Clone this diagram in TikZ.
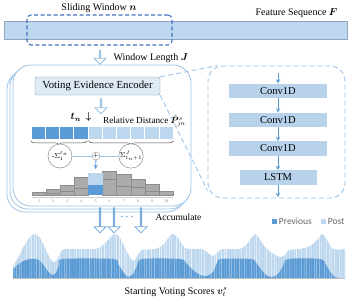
\documentclass[tikz,border=0pt]{standalone}
\usepackage{fontspec}
\setmainfont{Liberation Serif}
\newfontfamily\legendfont{Carlito}
\usepackage{amsmath,bm}
\usetikzlibrary{shapes.arrows,decorations.pathreplacing,calc}
\definecolor{featblue}{HTML}{BDD7EE}
\definecolor{featedge}{HTML}{8EA4C0}
\definecolor{winblue}{HTML}{4472C4}
\definecolor{cardline}{HTML}{9DC3E6}
\definecolor{encfill}{HTML}{DEEBF7}
\definecolor{encedge}{HTML}{8497B0}
\definecolor{darkblue}{HTML}{5B9BD5}
\definecolor{lightblue}{HTML}{BDD7EE}
\definecolor{convblue}{HTML}{B8D2EC}
\definecolor{bargray}{HTML}{ABABAB}
\definecolor{baredge}{HTML}{8C8C8C}
\begin{document}
\begin{tikzpicture}[x=1pt,y=-1pt,>=stealth,font=\fontsize{10}{12}\selectfont]
    \tikzset{hollow/.style={single arrow, draw=cardline, fill=white, line width=0.8pt, rotate=-90, minimum width=12pt, single arrow head extend=3.5pt, single arrow head indent=0pt, inner sep=0pt},
        card/.style={draw=cardline, fill=white, line width=0.8pt, rounded corners=18pt, minimum width=178pt, minimum height=141pt},
        cell/.style={draw=white, line width=0.6pt, minimum width=14.2pt, minimum height=13pt, inner sep=0pt},
        sumcirc/.style={circle, draw=baredge, fill=white, minimum size=24pt, inner sep=0pt, line width=0.5pt, font=\fontsize{7.5}{8}\selectfont},
        conv/.style={fill=convblue, minimum width=98pt, minimum height=14.5pt, inner sep=0pt, font=\fontsize{10.5}{12}\selectfont},
        flow/.style={->, darkblue, line width=0.9pt},
        key/.style={minimum size=5pt, inner sep=0pt},
        keytext/.style={anchor=west, inner sep=2pt, text=gray!80!black, font=\legendfont\fontsize{9.5}{10}\selectfont}}
    \useasboundingbox (0,0) rectangle (351,301);
    % feature sequence and sliding window
    \node[draw=featedge, fill=featblue, minimum width=343pt, minimum height=18pt, inner sep=0pt] (feat) at (175.5,30) {};
    \node[draw=winblue, dashed, dash pattern=on 4pt off 2.5pt, rounded corners=4pt, line width=1.1pt, minimum width=145pt, minimum height=30pt] (win) at (99.5,30) {};
    \node (winlbl) at (99,8) {Sliding Window $\bm{n}$};
    \node[anchor=east] (featlbl) at (341,13) {Feature Sequence $\bm{F}$};
    \node[hollow, minimum height=14pt] (winarrow) at (100,57) {};
    \node[anchor=west] (lenlbl) at (110,58) {Window Length $\bm{J}$};
    % stacked cards
    \node[card] (card3) at (96,141.5) {};
    \node[card] (card2) at (99,138.5) {};
    \node[card] (card1) at (102,135.5) {};
    \node[draw=encedge, fill=encfill, rounded corners=2pt, minimum width=125pt, minimum height=18pt, font=\fontsize{10.8}{12}\selectfont] (enc) at (97.5,86) {Voting Evidence Encoder};
    \node[hollow, minimum height=15pt] (encarrow) at (101,106) {};
    \node (tn) at (81,117) {$\bm{t_n}\,\bm{\downarrow}$};
    \node[anchor=west, inner sep=1pt, font=\fontsize{9.2}{11}\selectfont] (reldist) at (102,121) {Relative Distance $\bm{\hat{P}}^{s}_{jn}$};
    \foreach \i in {1,...,4} \node[cell, fill=darkblue] (c\i) at ({24+14.2*\i},132.5) {};
    \foreach \i in {5,...,10} \node[cell, fill=lightblue] (c\i) at ({24+14.2*\i},132.5) {};
    \draw[decorate, decoration={brace, mirror, amplitude=4pt}, gray!60!black, line width=0.5pt] ([yshift=-1.5pt]c1.south west) -- ([yshift=-1.5pt,xshift=-1pt]c4.south east);
    \draw[decorate, decoration={brace, mirror, amplitude=4pt}, gray!60!black, line width=0.5pt] ([yshift=-1.5pt,xshift=1pt]c5.south west) -- ([yshift=-1.5pt]c10.south east);
    \node[sumcirc] (sumprev) at (60,156) {-$\Sigma_{1}^{t_n}$};
    \node[sumcirc] (sumpost) at (131,156) {$\Sigma_{t_n+1}^{J}$};
    \node[circle, draw=baredge, fill=white, minimum size=8pt, inner sep=0pt, font=\fontsize{7}{7}\selectfont] (plus) at (96,156) {$+$};
    \draw[cardline, line width=0.8pt] (sumprev) -- (plus) -- (sumpost);
    % histogram
    \draw[gray!40, line width=0.3pt] (32,197) -- (173,197);
    \foreach \i/\top/\mid in {1/192/195, 2/189/193, 3/185/191, 4/177/188, 6/171/179, 7/174/186, 8/179/187, 9/184/191, 10/191/195} {
        \draw[fill=bargray, draw=baredge, line width=0.4pt] ({32+14.1*(\i-1)},195) rectangle ({32+14.1*\i},\top);
        \draw[baredge, line width=0.4pt] ({32+14.1*(\i-1)},\mid) -- ({32+14.1*\i},\mid);
    }
    \fill[lightblue] (88.4,173) rectangle (102.5,185);
    \fill[darkblue] (88.4,185) rectangle (102.5,195);
    \coordinate (bar5) at (95.5,172);
    \foreach \i in {1,...,10} \node[font=\fontsize{4}{4}\selectfont, text=gray] at ({25+14.1*\i},201) {\i};
    \draw[flow, shorten >=3pt] (plus) -- (bar5);
    % zoomed encoder
    \node[draw=cardline, dashed, dash pattern=on 5pt off 3pt, rounded corners=15pt, line width=0.9pt, minimum width=137pt, minimum height=132pt] (zoombox) at (276.5,132) {};
    \draw[cardline, dashed, dash pattern=on 5pt off 3pt, line width=0.9pt] (enc.north east) -- ($(zoombox.north west)+(10,0)$);
    \draw[cardline, dashed, dash pattern=on 5pt off 3pt, line width=0.9pt] (enc.south east) -- ($(zoombox.south west)+(0,-8)$);
    \coordinate (in) at (278,73);
    \node[conv] (conv1) at (278,91) {Conv1D};
    \node[conv] (conv2) at (278,120) {Conv1D};
    \node[conv] (conv3) at (278,148.5) {Conv1D};
    \node[conv, minimum width=77pt] (lstm) at (278,177.5) {LSTM};
    \coordinate (out) at (278,197);
    \draw[flow] (in) -- (conv1);
    \draw[flow] (conv1) -- (conv2);
    \draw[flow] (conv2) -- (conv3);
    \draw[flow] (conv3) -- (lstm);
    \draw[flow] (lstm) -- (out);
    % legend
    \node[key, fill=darkblue] (prevkey) at (274,221) {};
    \node[keytext] (prevlbl) at (prevkey.east) {Previous};
    \node[key, fill=lightblue] (postkey) at (323,221) {};
    \node[keytext] (postlbl) at (postkey.east) {Post};
    % accumulate
    \node[hollow, draw=darkblue!80, minimum height=25pt] (acc1) at (100,220) {};
    \node[hollow, draw=darkblue!80, minimum height=25pt] (acc2) at (114,220) {};
    \node[hollow, draw=darkblue!80, minimum height=25pt] (acc3) at (141,220) {};
    \node[text=darkblue, inner sep=0pt] (dots) at (128,217) {$\bm{\cdots}$};
    \node[anchor=west, font=\fontsize{9.5}{11}\selectfont] (acclbl) at (152,217) {Accumulate};
    % voting scores
    \def\postline{-- plot[smooth, tension=0.5] coordinates {(13,266) (18,258) (24,246) (30,237) (35,234) (40,238) (46,250) (51,260) (55,262) (59,256) (62,250) (70,249) (95,249) (103,245) (110,238) (115,234) (120,238) (126,250) (131,259) (134,261) (138,255) (142,250) (155,249) (163,245) (169,237) (173,234) (178,238) (184,247) (190,249) (202,249) (208,253) (213,256) (218,252) (223,249) (240,249) (247,244) (252,237) (255,234) (259,238) (265,247) (272,253) (280,257) (285,255) (289,250) (300,249) (310,246) (318,239) (322,234) (327,240) (333,249) (345,249)}}
    \def\prevline{-- plot[smooth, tension=0.5] coordinates {(13,269) (20,263) (26,260) (30,259) (37,259) (42,263) (47,270) (52,275) (56,273) (59,265) (63,259) (113,259) (118,264) (124,273) (128,277) (133,274) (137,266) (142,259) (180,259) (186,263) (193,270) (200,275) (207,276) (213,272) (217,263) (221,259) (251,259) (257,264) (264,273) (270,277) (277,275) (283,266) (288,259) (320,259) (326,265) (331,273) (335,277) (340,278)}}
    \pgfmathsetseed{7}
    \fill[lightblue] (13,278) \postline -- (345,278) -- cycle;
    \begin{scope}
        \clip (13,278) \postline -- (345,278) -- cycle;
        \foreach \x in {14,16.5,...,345} {
            \pgfmathsetmacro\op{0.1+0.6*rnd}
            \draw[white, opacity=\op, line width=0.7pt] (\x,230) -- (\x,278);
        }
    \end{scope}
    \fill[darkblue] (13,278) \prevline -- (345,278) -- cycle;
    \begin{scope}
        \clip (13,278) \prevline -- (345,278) -- cycle;
        \foreach \x in {14,16.5,...,345} {
            \pgfmathsetmacro\op{0.05+0.35*rnd}
            \draw[white, opacity=\op, line width=0.7pt] (\x,255) -- (\x,278);
        }
    \end{scope}
    \draw[gray!50, line width=0.4pt] (13,278.5) -- (345,278.5);
    \node (scorelbl) at (176,292) {Starting Voting Scores $\bm{v}_{t}^{s}$};
\end{tikzpicture}
\end{document}
